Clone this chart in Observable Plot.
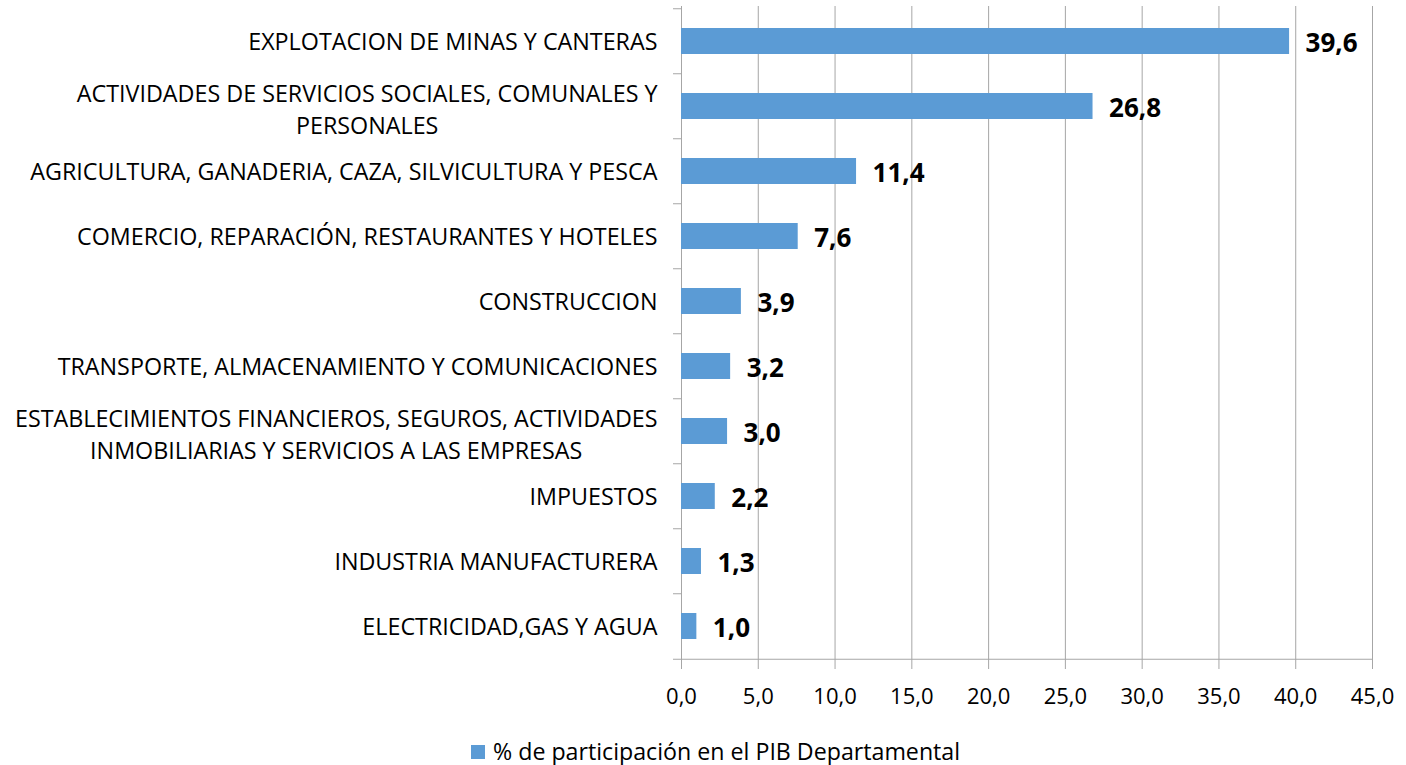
<!DOCTYPE html>
<html><head><meta charset="utf-8">
<script src="https://cdn.jsdelivr.net/npm/d3@7"></script>
<script src="https://cdn.jsdelivr.net/npm/@observablehq/plot@0.6"></script>
<style>
body{margin:0;background:#fff;font-family:"Open Sans",sans-serif;width:1406px;height:765px;overflow:hidden;position:relative}
#legend{position:absolute;left:471px;top:736px;display:flex;align-items:center;font-size:23.2px;line-height:31px;color:#000;white-space:nowrap}
#legend .sw{width:14px;height:14px;background:#5b9bd5;margin-right:8px}
</style></head>
<body><div id="chart"></div><div id="legend"></div>
<script>
const categories = [
  "EXPLOTACION DE MINAS Y CANTERAS",
  "ACTIVIDADES DE SERVICIOS SOCIALES, COMUNALES Y PERSONALES",
  "AGRICULTURA, GANADERIA, CAZA, SILVICULTURA Y PESCA",
  "COMERCIO, REPARACIÓN, RESTAURANTES Y HOTELES",
  "CONSTRUCCION",
  "TRANSPORTE, ALMACENAMIENTO Y COMUNICACIONES",
  "ESTABLECIMIENTOS FINANCIEROS, SEGUROS, ACTIVIDADES INMOBILIARIAS Y SERVICIOS A LAS EMPRESAS",
  "IMPUESTOS",
  "INDUSTRIA MANUFACTURERA",
  "ELECTRICIDAD,GAS Y AGUA"
];
const labelLines = [
  ["EXPLOTACION DE MINAS Y CANTERAS"],
  ["ACTIVIDADES DE SERVICIOS SOCIALES, COMUNALES Y", "PERSONALES"],
  ["AGRICULTURA, GANADERIA, CAZA, SILVICULTURA Y PESCA"],
  ["COMERCIO, REPARACIÓN, RESTAURANTES Y HOTELES"],
  ["CONSTRUCCION"],
  ["TRANSPORTE, ALMACENAMIENTO Y COMUNICACIONES"],
  ["ESTABLECIMIENTOS FINANCIEROS, SEGUROS, ACTIVIDADES", "INMOBILIARIAS Y SERVICIOS A LAS EMPRESAS"],
  ["IMPUESTOS"],
  ["INDUSTRIA MANUFACTURERA"],
  ["ELECTRICIDAD,GAS Y AGUA"]
];
const values = [39.6, 26.8, 11.4, 7.6, 3.9, 3.2, 3.0, 2.2, 1.3, 1.0];
const xTicks = [0, 5, 10, 15, 20, 25, 30, 35, 40, 45];
const seriesName = "% de participación en el PIB Departamental";

const W = 1406, H = 720, mTop = 6, mBottom = 59, mLeft = 681, mRight = 34;
const step = (H - mTop - mBottom) / categories.length;
const fontFamily = '"Open Sans", sans-serif';
const labelSize = 23.3;
const barColor = "#5b9bd5";
const gridColor = "#a6a6a6";

const data = categories.map((c, i) => ({cat: c, value: values[i], lines: labelLines[i]}));
const fmt = v => v.toFixed(1).replace(".", ",");

const ctx = document.createElement("canvas").getContext("2d");
ctx.font = `${labelSize}px ${fontFamily}`;

const single = data.filter(d => d.lines.length === 1);
const multi = data.filter(d => d.lines.length > 1);
const tickLen = 8 / ((W - mLeft - mRight) / 45);

const marks = [
  Plot.ruleX(xTicks, {stroke: gridColor, strokeWidth: 1}),
  Plot.barX(data, {y: "cat", x: "value", fill: barColor}),
  Plot.ruleY(categories, {y: d => d, x1: -tickLen, x2: 0, dy: -step / 2, stroke: gridColor, clip: false}),
  Plot.ruleY([categories[categories.length - 1]], {y: d => d, x1: -tickLen, x2: 45, dy: step / 2, stroke: gridColor, clip: false}),
  Plot.axisX({ticks: xTicks, tickSize: 8, tickPadding: 19, stroke: gridColor, tickFormat: fmt, fontSize: 22, fill: "#000", fontFamily, label: null}),
  Plot.text(single, {y: "cat", x: 0, text: d => d.lines[0], textAnchor: "end", dx: -24, dy: 1, fontSize: labelSize, fill: "#000", fontFamily}),
  ...multi.map(d => {
    const w = Math.max(...d.lines.map(l => ctx.measureText(l).width));
    return Plot.text([d], {y: "cat", x: 0, text: d => d.lines.join("\n"), textAnchor: "middle", lineHeight: 1.38, dx: -(24 + w / 2), dy: 1, fontSize: labelSize, fill: "#000", fontFamily});
  }),
  Plot.text(data, {y: "cat", x: "value", text: d => fmt(d.value), textAnchor: "start", dx: 16, dy: 2, fontSize: 26, fontWeight: "bold", fill: "#000", fontFamily})
];

const chart = Plot.plot({
  width: W, height: H,
  marginTop: mTop, marginBottom: mBottom, marginLeft: mLeft, marginRight: mRight,
  style: {fontFamily, background: "#fff", overflow: "visible"},
  x: {domain: [0, 45], axis: null},
  y: {domain: categories, axis: null, paddingInner: 0.6, paddingOuter: 0.3},
  marks
});
document.getElementById("chart").append(chart);

const lg = document.getElementById("legend");
lg.innerHTML = `<span class="sw"></span><span></span>`;
lg.lastChild.textContent = seriesName;
</script>
</body></html>
